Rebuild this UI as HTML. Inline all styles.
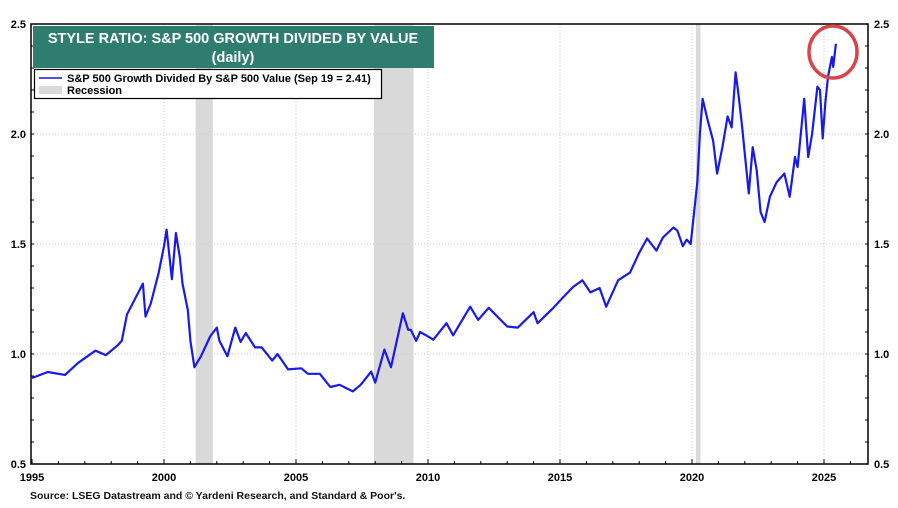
<!DOCTYPE html>
<html><head><meta charset="utf-8"><style>
body{margin:0;background:#fff;width:898px;height:503px;overflow:hidden;font-family:"Liberation Sans",Arial,sans-serif}
svg text{font-family:"Liberation Sans",Arial,sans-serif}
</style></head><body>
<svg id="chart" width="898" height="503">
<rect x="0" y="0" width="898" height="503" fill="#fff"/>
<g id="rec"></g>
<g id="grid"></g>
<g id="axes"></g>
<polyline id="line" fill="none" stroke="#1a1ae6" stroke-width="2.2" stroke-linejoin="round"/>
<ellipse cx="833" cy="52" rx="24" ry="26" fill="none" stroke="#d9434a" stroke-width="3.5"/>
<rect x="33" y="26" width="401" height="42" fill="#2e7d6e"/>
<text x="233" y="43" text-anchor="middle" fill="#fff" font-size="14.5" font-weight="bold">STYLE RATIO: S&amp;P 500 GROWTH DIVIDED BY VALUE</text>
<text x="233" y="62" text-anchor="middle" fill="#fff" font-size="14.5" font-weight="bold">(daily)</text>
<g>
<rect x="34.5" y="69.5" width="347" height="29" fill="#fff" stroke="#000" stroke-width="1.2"/>
<line x1="39" y1="78" x2="62" y2="78" stroke="#1414f0" stroke-width="1.5"/>
<text x="67" y="82" font-size="11" font-weight="bold">S&amp;P 500 Growth Divided By S&amp;P 500 Value (Sep 19 = 2.41)</text>
<rect x="39" y="86" width="23" height="8" fill="#d9d9d9"/>
<text x="67" y="94" font-size="11" font-weight="bold">Recession</text>
</g>
<text x="30" y="499" font-size="10.5" font-weight="bold" fill="#111">Source: LSEG Datastream and © Yardeni Research, and Standard &amp; Poor's.</text>
</svg>
<script>
const years=[1995.0,1995.6,1996.25,1996.75,1997.4,1997.8,1998.25,1998.4,1998.6,1999.2,1999.3,1999.5,1999.8,2000.0,2000.1,2000.3,2000.45,2000.6,2000.7,2000.9,2001.0,2001.15,2001.4,2001.75,2002.0,2002.1,2002.4,2002.7,2002.9,2003.1,2003.45,2003.7,2004.1,2004.3,2004.7,2005.2,2005.45,2005.9,2006.3,2006.65,2007.15,2007.45,2007.85,2008.0,2008.35,2008.6,2008.8,2009.05,2009.25,2009.35,2009.55,2009.7,2010.0,2010.2,2010.7,2010.95,2011.6,2011.9,2012.3,2013.0,2013.4,2014.0,2014.15,2014.75,2015.1,2015.5,2015.85,2016.15,2016.5,2016.75,2017.2,2017.65,2018.0,2018.3,2018.65,2018.9,2019.3,2019.45,2019.65,2019.8,2019.95,2020.05,2020.2,2020.3,2020.4,2020.6,2020.8,2020.95,2021.15,2021.35,2021.5,2021.65,2021.75,2021.9,2022.0,2022.15,2022.3,2022.45,2022.6,2022.75,2022.95,2023.2,2023.5,2023.7,2023.9,2024.0,2024.25,2024.4,2024.55,2024.75,2024.85,2024.95,2025.05,2025.15,2025.3,2025.35,2025.45];
const ratios=[0.891,0.918,0.905,0.96,1.015,0.995,1.04,1.06,1.18,1.32,1.17,1.23,1.37,1.49,1.565,1.34,1.55,1.44,1.32,1.2,1.06,0.94,0.99,1.08,1.12,1.06,0.99,1.12,1.055,1.095,1.03,1.03,0.97,1.0,0.93,0.935,0.91,0.91,0.85,0.86,0.83,0.86,0.92,0.87,1.02,0.94,1.05,1.185,1.11,1.11,1.06,1.1,1.08,1.065,1.14,1.085,1.215,1.155,1.21,1.125,1.12,1.19,1.14,1.21,1.255,1.305,1.335,1.28,1.3,1.215,1.335,1.37,1.46,1.525,1.47,1.53,1.575,1.56,1.49,1.52,1.5,1.61,1.78,2.0,2.16,2.06,1.97,1.82,1.94,2.08,2.03,2.28,2.19,2.03,1.91,1.73,1.94,1.835,1.645,1.6,1.715,1.78,1.82,1.715,1.895,1.85,2.16,1.895,2.0,2.215,2.2,1.98,2.14,2.26,2.35,2.305,2.41];
const recessionStarts=[2001.2,2007.95,2020.15];
const recessionEnds=[2001.85,2009.45,2020.32];
const xTicks=[1995,2000,2005,2010,2015,2020,2025];
const yTicks=[0.5,1.0,1.5,2.0,2.5];
const X0=31,X1=868,Y0=24,Y1=464;
function xs(t){return 32+(t-1995)*26.4;}
function ys(v){return 464-(v-0.5)*220;}
const NS="http://www.w3.org/2000/svg";
function mk(tag,attrs,parent){const e=document.createElementNS(NS,tag);for(const k in attrs)e.setAttribute(k,attrs[k]);parent.appendChild(e);return e;}
const rec=document.getElementById('rec'),grid=document.getElementById('grid'),axes=document.getElementById('axes');
recessionStarts.forEach((s,i)=>{
  const r=mk('rect',{x:xs(s),y:Y0,width:xs(recessionEnds[i])-xs(s),height:Y1-Y0,fill:'#d9d9d9'},rec);
  
  
});
xTicks.forEach(t=>{
  if(t>1995){const g=mk('line',{x1:xs(t),x2:xs(t),y1:Y0,y2:Y1,stroke:'#ccc','stroke-dasharray':'1,2'},grid);
  
  }
  const tx=mk('text',{x:xs(t),y:481,'text-anchor':'middle','font-size':'11','font-weight':'bold'},axes);
  tx.textContent=t;
  
  
});
for(let y=1995;y<=2026;y++){mk('line',{x1:xs(y),x2:xs(y),y1:Y1,y2:Y1-(y%5?3:5),stroke:'#000'},axes);}
yTicks.forEach(v=>{
  if(v>0.5&&v<2.5){const g=mk('line',{x1:X0,x2:X1,y1:ys(v),y2:ys(v),stroke:'#ccc','stroke-dasharray':'1,2'},grid);
  
  }
  const l=mk('text',{x:26,y:ys(v)+4,'text-anchor':'end','font-size':'11','font-weight':'bold'},axes);
  l.textContent=v.toFixed(1);
  
  
  const r=mk('text',{x:874,y:ys(v)+4,'font-size':'11','font-weight':'bold'},axes);
  r.textContent=v.toFixed(1);
  
  
});
for(let v=0.5;v<=2.5001;v+=0.1){mk('line',{x1:X0,x2:X0+3,y1:ys(v),y2:ys(v),stroke:'#000'},axes);mk('line',{x1:X1-3,x2:X1,y1:ys(v),y2:ys(v),stroke:'#000'},axes);}
mk('rect',{x:X0,y:Y0,width:X1-X0,height:Y1-Y0,fill:'none',stroke:'#000','stroke-width':'1.5'},axes);
document.getElementById('line').setAttribute('points',years.map((t,i)=>xs(t).toFixed(1)+','+ys(ratios[i]).toFixed(1)).join(' '));
</script>
</body></html>
